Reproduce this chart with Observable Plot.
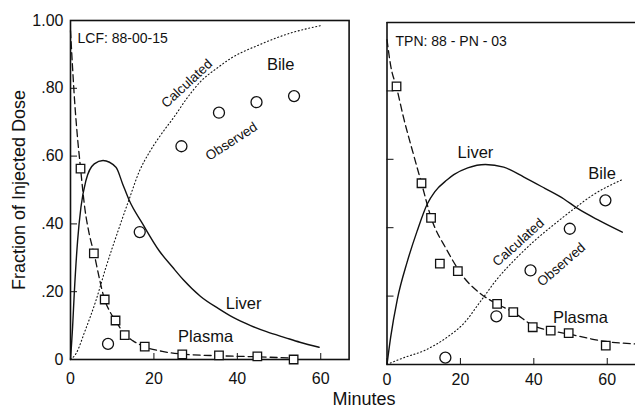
<!DOCTYPE html>
<html><head><meta charset="utf-8">
<script src="https://cdn.jsdelivr.net/npm/d3@7"></script>
<script src="https://cdn.jsdelivr.net/npm/@observablehq/plot@0.6"></script>
<style>
body{margin:0;background:#fff;}
#wrap{position:relative;width:635px;height:412px;overflow:hidden;font-family:"Liberation Sans",Arial,sans-serif;background:#fff;}
#wrap svg{position:absolute;top:0;z-index:1;}
#xtitle{position:absolute;z-index:5;left:264px;top:389px;width:200px;text-align:center;font-size:18px;line-height:20px;color:#111;}
</style></head><body>
<div id="wrap"><div id="xtitle"></div></div>
<script>
// ---- axis ticks ----
const yTickValues = [0, 0.2, 0.4, 0.6, 0.8, 1.0];
const yTickLabels = ["0", ".20", ".40", ".60", ".80", "1.00"];
const xTickValues = [0, 20, 40, 60];
const yTitle = "Fraction of Injected Dose";
const xTitle = "Minutes";

// ---- left panel: LCF 88-00-15 ----
const lcfId = "LCF: 88-00-15";
const lcfLiverT = [0, 0.5, 0.9, 1.7, 2.5, 3.7, 5.7, 7.8, 10.9, 12.5, 14.1, 17.3, 21.3, 24.5, 27, 31.2, 35.5, 39, 43.2, 47, 51.6, 55, 59.6];
const lcfLiverV = [0, 0.095, 0.194, 0.35, 0.449, 0.528, 0.577, 0.587, 0.567, 0.518, 0.469, 0.40, 0.32, 0.272, 0.236, 0.186, 0.150, 0.124, 0.100, 0.082, 0.064, 0.051, 0.036];
const lcfPlasmaT = [0, 0.5, 1, 1.5, 2.4, 3.5, 4.5, 5.7, 7, 8.1, 9.5, 10.9, 12.9, 15, 17.7, 22, 26.8, 35.6, 44.8, 53.5];
const lcfPlasmaV = [0.97, 0.86, 0.76, 0.68, 0.565, 0.44, 0.37, 0.31, 0.235, 0.18, 0.14, 0.113, 0.075, 0.055, 0.038, 0.024, 0.016, 0.011, 0.008, 0.004];
const lcfCalcT = [0, 1.3, 3.5, 6.1, 8.5, 11.7, 14.1, 16.5, 19, 21.5, 24.8, 28, 31.2, 35.2, 38.4, 45.6, 52, 60];
const lcfCalcV = [0, 0.017, 0.085, 0.174, 0.272, 0.39, 0.474, 0.555, 0.613, 0.66, 0.715, 0.772, 0.82, 0.86, 0.888, 0.93, 0.96, 0.985];
const lcfPlasmaObsT = [2.4, 5.6, 8.2, 10.8, 13.0, 17.8, 26.8, 35.6, 44.8, 53.5];
const lcfPlasmaObsV = [0.563, 0.313, 0.177, 0.115, 0.072, 0.038, 0.015, 0.012, 0.009, 0.0];
const lcfBileObsT = [9.0, 16.6, 26.6, 35.6, 44.6, 53.6];
const lcfBileObsV = [0.046, 0.376, 0.629, 0.728, 0.759, 0.777];
const lcfSlantText = ["Calculated", "Observed"];
const lcfSlantT = [27.9, 38.6];
const lcfSlantV = [0.814, 0.643];
const lcfSlantAngle = [-43, -33];
const lcfNameText = ["Bile", "Liver", "Plasma"];
const lcfNameT = [50.4, 41.5, 32.4];
const lcfNameV = [0.870, 0.165, 0.068];

// ---- right panel: TPN 88-PN-03 ----
const tpnId = "TPN: 88 - PN - 03";
const tpnLiverT = [0, 1, 2.8, 5.5, 8.2, 11, 13, 16.4, 18.2, 22, 26.8, 31.8, 37.3, 43, 48.2, 51.8, 58, 64.1];
const tpnLiverV = [0, 0.08, 0.19, 0.30, 0.39, 0.47, 0.505, 0.54, 0.555, 0.575, 0.585, 0.577, 0.548, 0.515, 0.484, 0.457, 0.42, 0.387];
const tpnPlasmaT = [0, 1, 2.6, 4.6, 7.3, 9.4, 12, 16.4, 20.9, 25.5, 30, 34.4, 40, 44.6, 50, 59.1, 67.7];
const tpnPlasmaV = [0.95, 0.874, 0.81, 0.718, 0.611, 0.53, 0.43, 0.333, 0.255, 0.207, 0.177, 0.153, 0.113, 0.099, 0.088, 0.068, 0.06];
const tpnCalcT = [0, 4.6, 10, 16.4, 20.9, 25.5, 30, 35.5, 40, 45, 50.9, 56, 64];
const tpnCalcV = [0, 0.02, 0.04, 0.08, 0.12, 0.185, 0.25, 0.314, 0.36, 0.405, 0.455, 0.495, 0.54];
const tpnPlasmaObsT = [2.6, 9.4, 12.0, 14.4, 19.3, 30.0, 34.4, 39.7, 44.6, 49.5, 59.6];
const tpnPlasmaObsV = [0.813, 0.530, 0.429, 0.295, 0.273, 0.177, 0.153, 0.109, 0.099, 0.092, 0.055];
const tpnBileObsT = [15.9, 29.8, 39.1, 49.8, 59.5];
const tpnBileObsV = [0.020, 0.141, 0.275, 0.397, 0.480];
const tpnSlantText = ["Calculated", "Observed"];
const tpnSlantT = [35.8, 47.5];
const tpnSlantV = [0.357, 0.292];
const tpnSlantAngle = [-42, -41];
const tpnNameText = ["Liver", "Bile", "Plasma"];
const tpnNameT = [24.1, 58.6, 52.7];
const tpnNameV = [0.620, 0.559, 0.137];

// ---- helpers ----
const ink = "#111";
const font = "'Liberation Sans', Arial, sans-serif";
const rows = (t, v) => t.map((x, i) => ({t: x, v: v[i]}));
const labels = (txt, t, v, a) => txt.map((s, i) => ({s, t: t[i], v: v[i], a: a ? a[i] : 0}));

function curveMarks(liverT, liverV, plasmaT, plasmaV, calcT, calcV, pObsT, pObsV, bObsT, bObsV) {
  return [
    Plot.line(rows(liverT, liverV), {x: "t", y: "v", stroke: ink, strokeWidth: 1.4, curve: "monotone-x"}),
    Plot.line(rows(plasmaT, plasmaV), {x: "t", y: "v", stroke: ink, strokeWidth: 1.3, strokeDasharray: "7,4", curve: "monotone-x"}),
    Plot.line(rows(calcT, calcV), {x: "t", y: "v", stroke: ink, strokeWidth: 1.1, strokeDasharray: "1,2.6", curve: "monotone-x"}),
    Plot.dot(rows(pObsT, pObsV), {x: "t", y: "v", symbol: "square", r: 4.8, stroke: ink, fill: "white", strokeWidth: 1.3}),
    Plot.dot(rows(bObsT, bObsV), {x: "t", y: "v", symbol: "circle", r: 5.5, stroke: ink, fill: "white", strokeWidth: 1.3})
  ];
}

const left = Plot.plot({
  width: 352, height: 412,
  marginLeft: 70, marginRight: 3.4, marginTop: 20, marginBottom: 53,
  x: {domain: [0, 66.8]},
  y: {domain: [0, 1]},
  style: {fontFamily: font, background: "white", color: ink},
  marks: [
    Plot.frame({stroke: ink, strokeWidth: 1.6}),
    Plot.axisY(yTickValues, {tickSize: -7, tickPadding: 14, fontSize: 16, label: null,
      tickFormat: d => yTickLabels[yTickValues.indexOf(d)]}),
    Plot.axisX(xTickValues, {tickSize: -6, tickPadding: 19, fontSize: 16, label: null}),
    Plot.text([yTitle], {text: d => d, frameAnchor: "left", textAnchor: "middle", lineAnchor: "middle", rotate: -90, dx: -51, fontSize: 18, fill: ink}),
    ...curveMarks(lcfLiverT, lcfLiverV, lcfPlasmaT, lcfPlasmaV, lcfCalcT, lcfCalcV, lcfPlasmaObsT, lcfPlasmaObsV, lcfBileObsT, lcfBileObsV),
    Plot.text([lcfId], {text: d => d, frameAnchor: "top-left", dx: 7, dy: 13, textAnchor: "start", fontSize: 14, fill: ink}),
    Plot.text(labels(lcfSlantText, lcfSlantT, lcfSlantV, lcfSlantAngle), {x: "t", y: "v", text: "s", rotate: "a", fontSize: 13.5, fill: ink}),
    Plot.text(labels(lcfNameText, lcfNameT, lcfNameV), {x: "t", y: "v", text: "s", fontSize: 16.5, fill: ink})
  ]
});
left.style.left = "0px";

const right = Plot.plot({
  width: 283, height: 412,
  marginLeft: 34.5, marginRight: 0, marginTop: 22, marginBottom: 48,
  x: {domain: [0, 67.7]},
  y: {domain: [0, 1]},
  style: {fontFamily: font, background: "white", color: ink},
  marks: [
    Plot.ruleX([0], {stroke: ink, strokeWidth: 1.6}),
    Plot.ruleY([0, 1], {stroke: ink, strokeWidth: 1.6}),
    Plot.axisY(yTickValues.slice(1, 5), {tickSize: -7, tickFormat: () => "", label: null}),
    Plot.axisX(xTickValues, {tickSize: -6, tickPadding: 15.5, fontSize: 16, label: null}),
    ...curveMarks(tpnLiverT, tpnLiverV, tpnPlasmaT, tpnPlasmaV, tpnCalcT, tpnCalcV, tpnPlasmaObsT, tpnPlasmaObsV, tpnBileObsT, tpnBileObsV),
    Plot.text([tpnId], {text: d => d, frameAnchor: "top-left", dx: 8.5, dy: 14, textAnchor: "start", fontSize: 14, fill: ink}),
    Plot.text(labels(tpnSlantText, tpnSlantT, tpnSlantV, tpnSlantAngle), {x: "t", y: "v", text: "s", rotate: "a", fontSize: 13.5, fill: ink}),
    Plot.text(labels(tpnNameText, tpnNameT, tpnNameV), {x: "t", y: "v", text: "s", fontSize: 16.5, fill: ink})
  ]
});
right.style.left = "352px";

const wrap = document.getElementById("wrap");
wrap.insertBefore(right, wrap.firstChild);
wrap.insertBefore(left, wrap.firstChild);
document.getElementById("xtitle").textContent = xTitle;
</script>
</body></html>
